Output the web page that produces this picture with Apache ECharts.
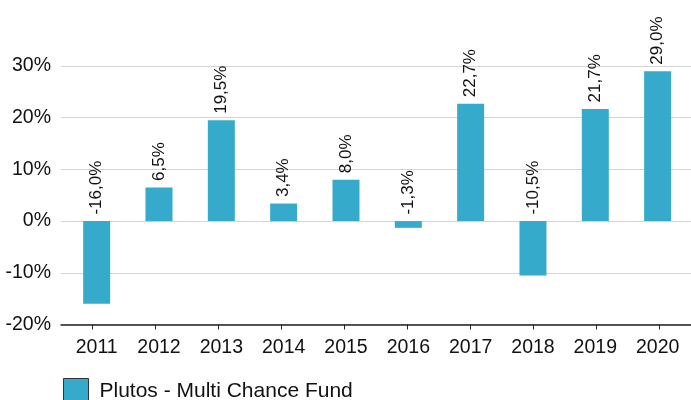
<!DOCTYPE html>
<html>
<head>
<meta charset="utf-8">
<script src="https://cdn.jsdelivr.net/npm/echarts@6/dist/echarts.min.js"></script>
<style>html,body{margin:0;padding:0;background:#fff;}#c{width:691px;height:400px;}</style>
</head>
<body>
<div id="c"></div>
<script>
const categories = ['2011','2012','2013','2014','2015','2016','2017','2018','2019','2020'];
const values = [-16.0, 6.5, 19.5, 3.4, 8.0, -1.3, 22.7, -10.5, 21.7, 29.0];
const seriesName = 'Plutos - Multi Chance Fund';
const yMin = -20, yMax = 30, yStep = 10;

const FONT = '"Liberation Sans", Arial, sans-serif';
const labelAnchor = values.map(v => Math.max(v, 0));
const fmt = v => v.toFixed(1).replace('.', ',') + '%';

const chart = echarts.init(document.getElementById('c'), null, {renderer: 'canvas'});
chart.setOption({
  animation: false,
  grid: [
    {left: 61, right: 0, top: 66, bottom: 75.5, containLabel: false},
    {left: 65.5, right: 2.2, top: 66, bottom: 75.5, containLabel: false}
  ],
  legend: {
    data: [seriesName],
    left: 63, top: 378, padding: 0,
    itemWidth: 25, itemHeight: 25,
    icon: 'rect',
    itemStyle: {borderColor: '#333', borderWidth: 1},
    textStyle: {fontFamily: FONT, fontSize: 21, color: '#111', padding: [0,0,0,6]}
  },
  xAxis: [
    {
      gridIndex: 0,
      type: 'category',
      data: categories,
      axisLine: {onZero: false, lineStyle: {color: '#222', width: 1.5}},
      axisTick: {show: true, alignWithLabel: true, length: 5, lineStyle: {color: '#222'}},
      axisLabel: {show: false}
    },
    {
      gridIndex: 1,
      type: 'category',
      data: categories,
      axisLine: {show: false},
      axisTick: {show: false},
      axisLabel: {fontFamily: FONT, fontSize: 19.5, color: '#111', margin: 13}
    }
  ],
  yAxis: [
    {
      gridIndex: 0,
      type: 'value',
      min: yMin, max: yMax, interval: yStep,
      axisLine: {show: false},
      axisTick: {show: false},
      splitLine: {lineStyle: {color: '#d4d4d4', width: 1}},
      axisLabel: {fontFamily: FONT, fontSize: 19.5, color: '#111', margin: 10, formatter: v => v + '%'}
    },
    {
      gridIndex: 1,
      type: 'value',
      min: yMin, max: yMax, interval: yStep,
      show: false,
      splitLine: {show: false}
    }
  ],
  series: [
    {
      name: seriesName,
      type: 'bar',
      xAxisIndex: 1, yAxisIndex: 1,
      data: values,
      barWidth: 27,
      itemStyle: {color: '#35aacb'}
    },
    {
      name: 'labels',
      type: 'bar',
      xAxisIndex: 1, yAxisIndex: 1,
      data: labelAnchor,
      barWidth: 27,
      barGap: '-100%',
      silent: true,
      itemStyle: {color: 'rgba(0,0,0,0)'},
      label: {
        show: true,
        position: 'top',
        rotate: 90,
        align: 'left',
        verticalAlign: 'middle',
        distance: 6.5,
        fontFamily: FONT,
        fontSize: 17,
        color: '#111',
        formatter: p => fmt(values[p.dataIndex])
      }
    }
  ]
});
</script>
</body>
</html>
